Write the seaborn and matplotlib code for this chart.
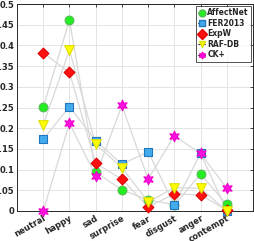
import numpy as np
import pandas as pd
import seaborn as sns
import matplotlib.pyplot as plt
from matplotlib.lines import Line2D

# emotion categories and per-dataset proportions
emotions = ['neutral', 'happy', 'sad', 'surprise', 'fear', 'disgust', 'anger', 'contempt']
affectnet = [0.251, 0.461, 0.094, 0.051, 0.027, 0.015, 0.089, 0.016]
fer2013 = [0.173, 0.252, 0.170, 0.113, 0.143, 0.015, 0.139, 0.0]
expw = [0.382, 0.335, 0.115, 0.077, 0.010, 0.041, 0.039, 0.002]
rafdb = [0.208, 0.389, 0.161, 0.105, 0.022, 0.056, 0.055, 0.0]
ckplus = [0.0, 0.212, 0.085, 0.255, 0.077, 0.182, 0.139, 0.055]

names = ['AffectNet', 'FER2013', 'ExpW', 'RAF-DB', 'CK+']
series = [affectnet, fer2013, expw, rafdb, ckplus]
face = ['#22ee22', '#44aaee', '#ff1111', '#ffff00', '#ff11dd']
edge = ['#55bb55', '#2277bb', '#dd0000', '#dddd00', '#ee00cc']
marks = ['o', 's', 'D', 'v', (6, 1, 0)]
msize = [40, 28, 30, 48, 58]

sns.set_style('white')
plt.rcParams['font.family'] = ['DejaVu Sans']

fig = plt.figure(figsize=(2.55, 2.41), dpi=100)
ax = fig.add_axes([17/255, 1-211/241, 236/255, 207/241])

xpos = np.arange(1, len(emotions)+1)
for i in range(len(series)):
    df = pd.DataFrame({'x': xpos, 'y': series[i]})
    sns.lineplot(data=df, x='x', y='y', color='#d8d8d8', lw=0.9, ax=ax, zorder=2)
for i in range(len(series)):
    df = pd.DataFrame({'x': xpos, 'y': series[i]})
    sns.scatterplot(data=df, x='x', y='y', marker=marks[i], s=msize[i], color=face[i],
                    edgecolor=edge[i], linewidth=0.8, ax=ax, zorder=3, clip_on=False)

ax.set_xlim(0, 9)
ax.set_ylim(0, 0.5)
ax.set_xticks(xpos)
ax.set_xticklabels(emotions, rotation=30, ha='right', rotation_mode='anchor',
                   fontsize=6, fontweight='bold')
yt = np.arange(0, 0.501, 0.05)
ax.set_yticks(yt)
ax.set_yticklabels(['0'] + ['%g' % round(v, 2) for v in yt[1:]], fontsize=6, fontweight='bold')
ax.set_xlabel('')
ax.set_ylabel('')
ax.grid(True, color='#e4e4e4', lw=0.7)
ax.tick_params(direction='in', length=2.5, width=0.6, top=True, right=True, pad=2, colors='#262626')
for s in ax.spines.values():
    s.set_color('#262626')
    s.set_linewidth(0.7)

handles = [Line2D([0], [0], color='#444444', lw=0.8, marker=marks[i], markersize=5,
                  markerfacecolor=face[i], markeredgecolor=edge[i]) for i in range(len(names))]
leg = ax.legend(handles, names, loc='upper right', prop={'weight': 'bold', 'size': 5.5},
                handlelength=0.9, handletextpad=0.3, borderpad=0.3, labelspacing=0.2,
                frameon=True, fancybox=False, borderaxespad=0.25)
leg.get_frame().set_edgecolor('#262626')
leg.get_frame().set_linewidth(0.7)

fig.savefig('out.png', dpi=100)
